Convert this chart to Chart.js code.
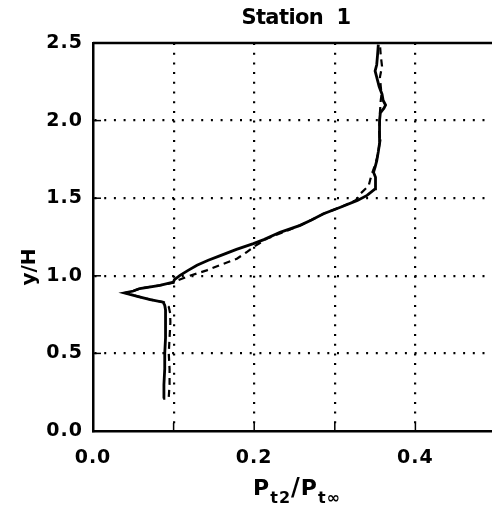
<!DOCTYPE html>
<html>
<head>
<meta charset="utf-8">
<script src="https://cdn.jsdelivr.net/npm/chart.js@4/dist/chart.umd.min.js"></script>
<style>
  html, body { margin: 0; padding: 0; background: #fff; overflow: hidden; }
  #wrap { width: 498px; height: 510px; }
</style>
</head>
<body>
<div id="wrap"><canvas id="c1" width="498" height="510"></canvas></div>
<script>
// solid curve (P_t2/P_tinf , y/H)
var solidX = [0.087, 0.088, 0.089, 0.089, 0.090, 0.090, 0.090, 0.089, 0.087, 0.071, 0.055, 0.039, 0.050, 0.058, 0.083, 0.0998,
              0.101, 0.108, 0.118, 0.129, 0.143, 0.158, 0.178, 0.199, 0.212, 0.232, 0.257, 0.271, 0.286, 0.307, 0.328, 0.340,
              0.350, 0.351, 0.350, 0.348, 0.350, 0.352, 0.354, 0.356, 0.355, 0.356, 0.3565, 0.361, 0.363, 0.360, 0.3586, 0.355,
              0.352, 0.350, 0.352, 0.353, 0.354];
var solidY = [0.21, 0.30, 0.40, 0.50, 0.60, 0.71, 0.78, 0.81, 0.83, 0.847, 0.868, 0.89, 0.902, 0.918, 0.939, 0.96,
              0.975, 1.003, 1.035, 1.068, 1.10, 1.13, 1.17, 1.207, 1.233, 1.28, 1.325, 1.36, 1.40, 1.442, 1.486, 1.518,
              1.56, 1.60, 1.635, 1.667, 1.70, 1.74, 1.80, 1.87, 1.94, 2.0, 2.05, 2.08, 2.10, 2.13, 2.17, 2.22,
              2.28, 2.32, 2.36, 2.42, 2.49];

// dashed curve
var dashX = [0.094, 0.095, 0.095, 0.094, 0.095, 0.096, 0.0957, 0.094, 0.088, 0.071, 0.055, 0.040, 0.050, 0.058, 0.083, 0.100,
             0.105, 0.120, 0.141, 0.158, 0.1785, 0.190, 0.199, 0.2158, 0.2406, 0.257, 0.271, 0.286, 0.307, 0.326, 0.332, 0.342,
             0.344, 0.346, 0.349, 0.352, 0.354, 0.356, 0.355, 0.356, 0.356, 0.3565, 0.357, 0.358, 0.357, 0.356, 0.3586, 0.357, 0.356];
var dashY = [0.22, 0.30, 0.40, 0.50, 0.60, 0.70, 0.76, 0.80, 0.83, 0.847, 0.868, 0.89, 0.902, 0.918, 0.939, 0.955,
             0.97, 1.00, 1.035, 1.07, 1.11, 1.15, 1.185, 1.24, 1.29, 1.325, 1.36, 1.40, 1.442, 1.486, 1.53, 1.58,
             1.62, 1.657, 1.70, 1.75, 1.80, 1.87, 1.94, 2.0, 2.05, 2.09, 2.13, 2.17, 2.22, 2.28, 2.35, 2.42, 2.49];

var xLabels = ['0.0', '', '0.2', '', '0.4', ''];
var yLabels = ['0.0', '0.5', '1.0', '1.5', '2.0', '2.5'];
var chartTitle = 'Station  1';
var yTitle = 'y/H';

function pts(xs, ys) {
  var out = [];
  for (var i = 0; i < xs.length; i++) out.push({x: xs[i], y: ys[i]});
  return out;
}

var FONT = '"DejaVu Sans", sans-serif';
var SPACING = '1px';

var extras = {
  id: 'extras',
  beforeUpdate: function(chart) { chart.ctx.letterSpacing = SPACING; },
  beforeDraw: function(chart) { chart.ctx.letterSpacing = SPACING; },
  afterDraw: function(chart) {
    var ctx = chart.ctx, a = chart.chartArea;
    var xs = chart.scales.x, ys = chart.scales.y;
    ctx.save();
    ctx.strokeStyle = '#000';
    // top border
    ctx.lineWidth = 2.5;
    ctx.beginPath(); ctx.moveTo(a.left, a.top); ctx.lineTo(a.right, a.top); ctx.stroke();
    // right border (faint in the scan)
    ctx.lineWidth = 1;
    ctx.strokeStyle = '#bbb';
    ctx.beginPath(); ctx.moveTo(a.right, a.top); ctx.lineTo(a.right, a.bottom); ctx.stroke();
    // small inward tick marks
    ctx.strokeStyle = '#000';
    ctx.lineWidth = 1.5;
    for (var v = 1; v < 5; v++) {
      var px = xs.getPixelForValue(v / 10);
      ctx.beginPath(); ctx.moveTo(px, a.bottom); ctx.lineTo(px, a.bottom - 8); ctx.stroke();
    }
    for (var k = 1; k < 5; k++) {
      var py = ys.getPixelForValue(k * 0.5);
      ctx.beginPath(); ctx.moveTo(a.left, py); ctx.lineTo(a.left + 8, py); ctx.stroke();
    }
    ctx.fillStyle = '#000';
    // title
    ctx.letterSpacing = '-0.6px';
    ctx.font = 'bold 21px ' + FONT;
    ctx.textAlign = 'center';
    ctx.textBaseline = 'middle';
    ctx.fillText(chartTitle, 296, 19);
    // y title
    ctx.save();
    ctx.letterSpacing = '0px';
    ctx.translate(30, 267);
    ctx.rotate(-Math.PI / 2);
    ctx.font = 'bold 20px ' + FONT;
    ctx.fillText(yTitle, 0, 0);
    ctx.restore();
    // x title with subscripts
    ctx.letterSpacing = '1px';
    var parts = [['P', 22, 0], ['t2', 16, 8], ['/', 24, 0], ['P', 22, 0], ['t\u221e', 16, 8]];
    var total = 0;
    ctx.textAlign = 'left';
    ctx.textBaseline = 'alphabetic';
    parts.forEach(function(p) { ctx.font = 'bold ' + p[1] + 'px ' + FONT; total += ctx.measureText(p[0]).width; });
    var x0 = 297 - total / 2;
    parts.forEach(function(p) {
      ctx.font = 'bold ' + p[1] + 'px ' + FONT;
      ctx.fillText(p[0], x0, 495 + p[2]);
      x0 += ctx.measureText(p[0]).width;
    });
    ctx.restore();
  }
};

var ctx = document.getElementById('c1').getContext('2d');
var chart1 = new Chart(ctx, {
  type: 'scatter',
  data: {
    datasets: [{
      label: 'solid',
      data: pts(solidX, solidY),
      showLine: true,
      borderColor: '#000',
      borderWidth: 2.8,
      pointRadius: 0,
      tension: 0
    }, {
      label: 'dashed',
      data: pts(dashX, dashY),
      showLine: true,
      borderColor: '#000',
      borderWidth: 2.2,
      borderDash: [7, 5],
      pointRadius: 0,
      tension: 0
    }]
  },
  options: {
    responsive: false,
    animation: false,
    events: [],
    layout: { padding: { top: 43, left: 0, right: 2, bottom: 0 } },
    plugins: { legend: { display: false }, tooltip: { enabled: false } },
    scales: {
      x: {
        type: 'linear',
        min: 0, max: 0.5,
        afterFit: function(s) { s.height = 79; s.paddingLeft = 0; s.paddingRight = 0; },
        ticks: {
          stepSize: 0.1,
          color: '#000',
          padding: 16,
          maxRotation: 0,
          font: { family: FONT, size: 19, weight: 'bold' },
          callback: function(v, i) { return xLabels[i]; }
        },
        grid: {
          drawTicks: false,
          lineWidth: 2.2,
          color: function(c) {
            var v = c.tick ? c.tick.value : 0;
            return (v <= 0.001 || v >= 0.499) ? 'rgba(0,0,0,0)' : '#000';
          }
        },
        border: { display: true, color: '#000', width: 2.5, dash: [2, 7.7] }
      },
      y: {
        type: 'linear',
        min: 0, max: 2.5,
        afterFit: function(s) { s.width = 93; s.paddingTop = 0; s.paddingBottom = 0; },
        ticks: {
          stepSize: 0.5,
          color: '#000',
          padding: 10,
          font: { family: FONT, size: 19, weight: 'bold' },
          callback: function(v, i) { return yLabels[i]; }
        },
        grid: {
          drawTicks: false,
          lineWidth: 2.2,
          color: function(c) {
            var v = c.tick ? c.tick.value : 0;
            return (v <= 0.001 || v >= 2.499) ? 'rgba(0,0,0,0)' : '#000';
          }
        },
        border: { display: true, color: '#000', width: 2.5, dash: [2, 7.7] }
      }
    }
  },
  plugins: [extras]
});
</script>
</body>
</html>
